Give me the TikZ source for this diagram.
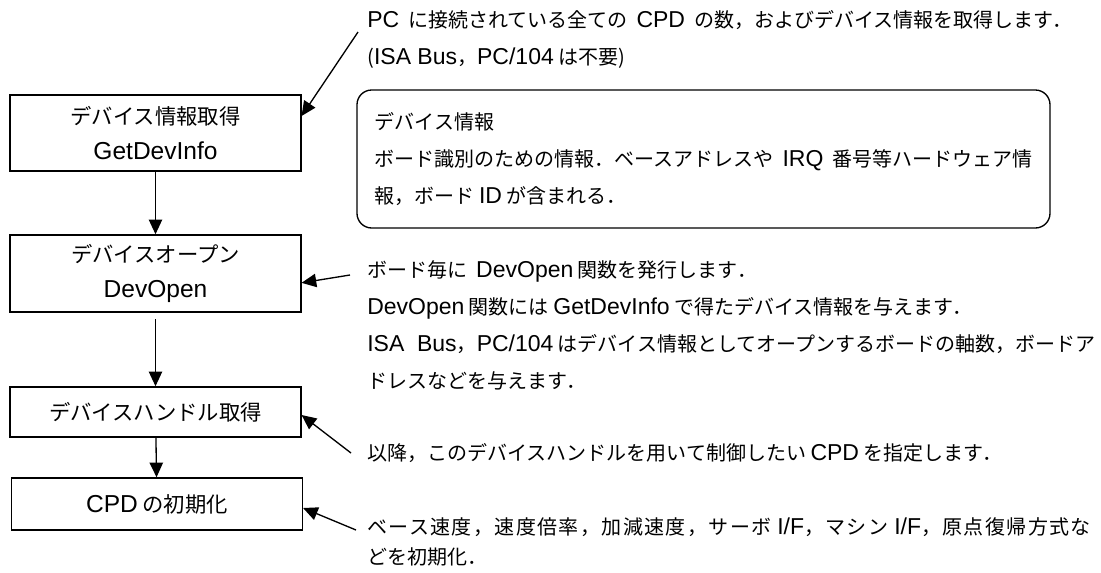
\documentclass[tikz,border=0pt]{standalone}
\usepackage{fontspec}
\setmainfont{Noto Sans CJK JP}
\newfontfamily\en[Scale=1.15]{Liberation Sans}
\newfontfamily\jpwide[LetterSpace=7]{Noto Sans CJK JP}
\usetikzlibrary{arrows.meta}

\begin{document}
\begin{tikzpicture}[x=0.75pt,y=-0.75pt]
        \tikzset{
        cpd box/.style={rectangle,draw,line width=1.1pt,minimum width=218pt,inner sep=0,align=center,font=\fontsize{16pt}{26.5pt}\selectfont},
        cpd note/.style={anchor=north west,inner sep=0,align=left,font=\fontsize{15pt}{27.75pt}\selectfont},
        cpd arrow/.style={-{Triangle[length=11pt,width=10pt]},line width=1pt}
        }
        \useasboundingbox (0,0) rectangle (1101,572);
        \node[cpd box,minimum height=57pt] (b1) at (155.5,133) {デバイス情報取得\\{\en GetDevInfo}};
        \node[cpd box,minimum height=57.75pt] (b2) at (155.5,273.5) {デバイスオープン\\{\en DevOpen}};
        \node[cpd box,minimum height=37.5pt] (b3) at (155.5,412) {デバイスハンドル取得};
        \node[cpd box,minimum height=39pt] (b4) at (157,504) {{\en CPD} の初期化};

        \node[cpd note] (n1) at (367,10) {{\en PC}\ \ に接続されている全ての\ \ {\en CPD}\ \ の数，およびデバイス情報を取得します．\\({\en ISA Bus}，{\en PC/104} は不要)};
        \node[cpd note,draw,line width=1pt,rounded corners=11pt,anchor=center,minimum width=519.75pt,minimum height=103.5pt,inner xsep=10.5pt] (info) at (703.5,159) {デバイス情報\\ボード識別のための情報．ベースアドレスや\ \ {\en IRQ}\ \ 番号等ハードウェア情\\報，ボード {\en ID} が含まれる．};
        \node[cpd note] (n2) at (367,260) {ボード毎に\ \ {\en DevOpen} 関数を発行します．\\{\en DevOpen} 関数には {\en GetDevInfo} で得たデバイス情報を与えます．\\{\en ISA\ \ Bus}，{\en PC/104} はデバイス情報としてオープンするボードの軸数，ボードア\\ドレスなどを与えます．};
        \node[cpd note] (n3) at (367,443) {以降，このデバイスハンドルを用いて制御したい {\en CPD} を指定します．};
        \node[cpd note,font=\fontsize{15pt}{22.5pt}\selectfont] (n4) at (367,517) {{\jpwide ベース速度，速度倍率，加減速度，サーボ {\en I/F}，マシン {\en I/F}，原点復帰方式な}\\どを初期化．};

        \coordinate (a1) at (358,32);
        \coordinate (a2) at (350,275);
        \coordinate (a3) at (351,453);
        \coordinate (a4) at (356,530);

        \draw[cpd arrow] (b1) -- (b2);
        \draw[cpd arrow] ([yshift=-5pt]b2.south) -- (b3);
        \draw[cpd arrow] (b3) -- (b4);
        \draw[cpd arrow] (a1) -- ([yshift=12.75pt]b1.east);
        \draw[cpd arrow] (a2) -- ([yshift=-7pt]b2.east);
        \draw[cpd arrow] (a3) -- ([yshift=-2.25pt]b3.east);
        \draw[cpd arrow] (a4) -- ([yshift=-3pt]b4.east);
\end{tikzpicture}
\end{document}
